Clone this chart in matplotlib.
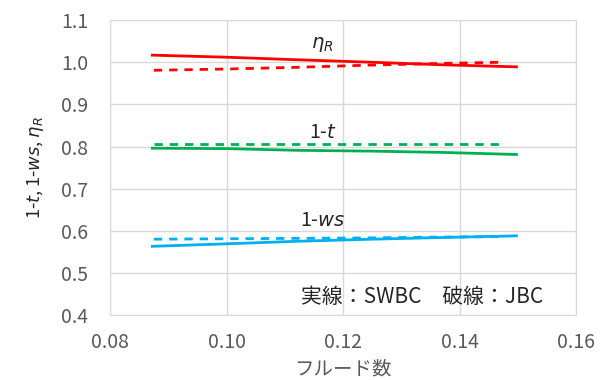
import matplotlib
matplotlib.use("Agg")
import matplotlib.pyplot as plt

plt.rcParams['font.family'] = ['Noto Sans CJK JP', 'DejaVu Sans']
plt.rcParams['mathtext.fontset'] = 'dejavusans'

# Froude numbers
fn_swbc = [0.087, 0.100, 0.112, 0.125, 0.137, 0.150]
fn_jbc = [0.0875, 0.100, 0.112, 0.124, 0.136, 0.147]

# SWBC (solid)
eta_r_swbc = [1.017, 1.012, 1.006, 1.000, 0.994, 0.989]
one_t_swbc = [0.796, 0.795, 0.791, 0.789, 0.786, 0.781]
one_ws_swbc = [0.563, 0.569, 0.575, 0.580, 0.584, 0.588]

# JBC (dashed)
eta_r_jbc = [0.981, 0.984, 0.988, 0.993, 0.997, 1.000]
one_t_jbc = [0.807, 0.807, 0.807, 0.807, 0.807, 0.807]
one_ws_jbc = [0.580, 0.581, 0.582, 0.583, 0.585, 0.586]

red = '#ff0000'
green = '#00b050'
blue = '#00b0f0'
gray = '#595959'

fig = plt.figure(figsize=(6.02, 3.80), dpi=100)
ax = fig.add_axes([0.183, 0.171, 0.774, 0.776])

ax.plot(fn_swbc, eta_r_swbc, color=red, lw=2, solid_capstyle='butt')
ax.plot(fn_jbc, eta_r_jbc, color=red, lw=2, ls=(0, (3, 2.5)))
ax.plot(fn_swbc, one_t_swbc, color=green, lw=2, solid_capstyle='butt')
ax.plot(fn_jbc, one_t_jbc, color=green, lw=2, ls=(0, (3, 2.5)))
ax.plot(fn_swbc, one_ws_swbc, color=blue, lw=2, solid_capstyle='butt')
ax.plot(fn_jbc, one_ws_jbc, color=blue, lw=2, ls=(0, (3, 2.5)))

ax.set_xlim(0.08, 0.16)
ax.set_ylim(0.4, 1.1)
ax.set_xticks([0.08, 0.10, 0.12, 0.14, 0.16])
ax.set_yticks([0.4, 0.5, 0.6, 0.7, 0.8, 0.9, 1.0, 1.1])
ax.xaxis.set_major_formatter(matplotlib.ticker.FormatStrFormatter('%.2f'))
ax.yaxis.set_major_formatter(matplotlib.ticker.FormatStrFormatter('%.1f'))
ax.grid(True, color='#d9d9d9', lw=1)
ax.set_axisbelow(True)
for s in ax.spines.values():
    s.set_color('#d9d9d9')
ax.tick_params(length=0, labelsize=14, colors=gray)
ax.tick_params(axis='x', pad=12)
ax.tick_params(axis='y', pad=16)

ax.text(0.1165, 1.045, r'$\eta_R$', fontsize=14, color='#262626', ha='center', va='center')
ax.text(0.1165, 0.833, '1-$t$', fontsize=14, color='#262626', ha='center', va='center')
ax.text(0.1165, 0.624, '1-$ws$', fontsize=14, color='#262626', ha='center', va='center')
ax.text(0.1335, 0.443, '実線：SWBC　破線：JBC', fontsize=15, color='#262626', ha='center', va='center')

ax.set_xlabel('フルード数', fontsize=14, color=gray, labelpad=4)
ax.set_ylabel('1-$t$, 1-$ws$, $\\eta_R$', fontsize=13, color='#262626', labelpad=11)

fig.savefig('out.png', dpi=100)
